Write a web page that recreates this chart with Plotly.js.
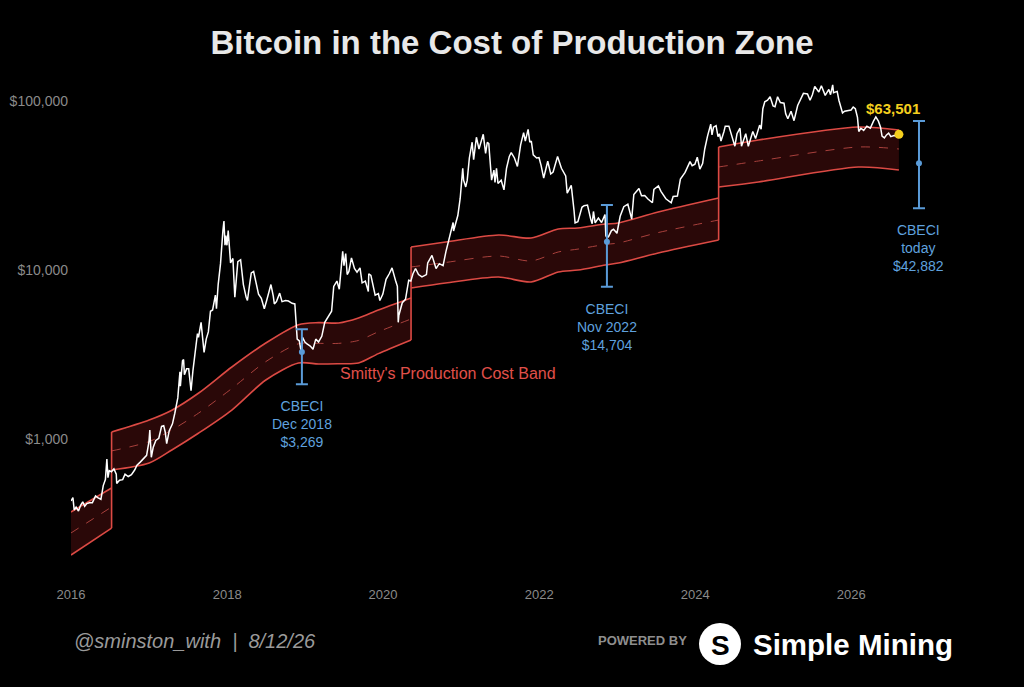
<!DOCTYPE html>
<html>
<head>
<meta charset="utf-8">
<script src="https://cdn.plot.ly/plotly-3.0.1.min.js"></script>
<style>
html,body{margin:0;padding:0;background:#000;}
#chart{width:1024px;height:687px;}
</style>
</head>
<body>
<div id="chart"></div>
<script>
// ---------- DATA ----------
const priceDates = [
'2016-01-01','2016-01-10','2016-01-16','2016-01-25','2016-02-05','2016-02-15','2016-02-25','2016-03-05','2016-03-15','2016-03-28',
'2016-04-10','2016-04-25','2016-05-05','2016-05-20','2016-05-31','2016-06-10','2016-06-17','2016-06-22','2016-06-28','2016-07-08',
'2016-07-20','2016-07-31','2016-08-02','2016-08-15','2016-08-30','2016-09-10','2016-09-25','2016-10-10','2016-10-25','2016-11-05',
'2016-11-20','2016-12-05','2016-12-20','2016-12-31',
'2017-01-04','2017-01-11','2017-01-20','2017-02-01','2017-02-15','2017-02-28','2017-03-10','2017-03-17','2017-03-24','2017-04-05',
'2017-04-20','2017-05-01','2017-05-15','2017-05-25','2017-05-27','2017-06-06','2017-06-11','2017-06-15','2017-06-25','2017-07-05',
'2017-07-16','2017-07-25','2017-08-05','2017-08-15','2017-08-20','2017-09-01','2017-09-15','2017-09-25','2017-10-05','2017-10-15',
'2017-10-25','2017-11-01','2017-11-07','2017-11-12','2017-11-20','2017-12-01','2017-12-08','2017-12-12','2017-12-17','2017-12-22',
'2017-12-26','2017-12-31',
'2018-01-06','2018-01-10','2018-01-17','2018-01-28','2018-02-06','2018-02-12','2018-02-20','2018-03-05','2018-03-12','2018-03-18',
'2018-03-31','2018-04-06','2018-04-15','2018-04-24','2018-05-05','2018-05-15','2018-05-28','2018-06-10','2018-06-24','2018-07-05',
'2018-07-25','2018-08-05','2018-08-10','2018-08-20','2018-09-04','2018-09-15','2018-10-01','2018-10-15','2018-11-01','2018-11-14',
'2018-11-20','2018-11-25','2018-12-05','2018-12-15','2018-12-20','2018-12-31',
'2019-01-10','2019-01-25','2019-02-07','2019-02-20','2019-03-05','2019-03-20','2019-04-03','2019-04-20','2019-05-05','2019-05-15',
'2019-05-30','2019-06-10','2019-06-26','2019-07-02','2019-07-10','2019-07-17','2019-07-25','2019-08-06','2019-08-20','2019-09-01',
'2019-09-15','2019-09-25','2019-10-10','2019-10-24','2019-10-26','2019-11-05','2019-11-25','2019-12-10','2019-12-17','2019-12-31',
'2020-01-15','2020-01-30','2020-02-12','2020-02-28','2020-03-08','2020-03-12','2020-03-15','2020-03-31','2020-04-15','2020-04-30',
'2020-05-10','2020-05-20','2020-06-01','2020-06-15','2020-07-01','2020-07-22','2020-07-28','2020-08-17','2020-09-05','2020-09-20',
'2020-10-08','2020-10-21','2020-11-05','2020-11-24','2020-11-26','2020-12-16','2020-12-27',
'2021-01-03','2021-01-08','2021-01-12','2021-01-22','2021-01-29','2021-02-08','2021-02-21','2021-02-28','2021-03-13','2021-03-25',
'2021-04-14','2021-04-25','2021-05-03','2021-05-10','2021-05-13','2021-05-19','2021-05-23','2021-06-03','2021-06-08','2021-06-15',
'2021-06-22','2021-07-07','2021-07-20','2021-08-01','2021-08-14','2021-08-23','2021-08-29','2021-09-07','2021-09-21','2021-10-06',
'2021-10-20','2021-10-28','2021-11-10','2021-11-18','2021-11-25','2021-12-04','2021-12-20','2021-12-31',
'2022-01-10','2022-01-22','2022-02-10','2022-02-24','2022-03-07','2022-03-28','2022-04-15','2022-04-26','2022-05-05','2022-05-12',
'2022-05-31','2022-06-13','2022-06-18','2022-07-01','2022-07-20','2022-07-30','2022-08-15','2022-08-30','2022-09-06','2022-09-12',
'2022-09-20','2022-10-05','2022-10-20','2022-11-05','2022-11-09','2022-11-21','2022-12-05','2022-12-15','2022-12-31',
'2023-01-15','2023-02-01','2023-02-20','2023-03-10','2023-03-20','2023-04-13','2023-04-25','2023-05-10','2023-05-25','2023-06-15',
'2023-06-22','2023-07-13','2023-07-25','2023-08-17','2023-09-11','2023-09-20','2023-10-10','2023-10-24','2023-11-15','2023-12-08',
'2023-12-18','2023-12-31',
'2024-01-11','2024-01-23','2024-02-05','2024-02-15','2024-02-28','2024-03-05','2024-03-14','2024-03-20','2024-03-27','2024-04-08',
'2024-04-17','2024-04-24','2024-05-01','2024-05-15','2024-05-21','2024-06-07','2024-06-24','2024-07-05','2024-07-15','2024-07-29',
'2024-08-05','2024-08-25','2024-09-06','2024-09-27','2024-10-10','2024-10-29','2024-11-05','2024-11-13','2024-11-22','2024-12-05',
'2024-12-17','2024-12-31',
'2025-01-09','2025-01-21','2025-02-03','2025-02-20','2025-02-28','2025-03-10','2025-03-25','2025-04-08','2025-04-25','2025-05-10',
'2025-05-22','2025-06-10','2025-06-22','2025-07-03','2025-07-14','2025-08-02','2025-08-14','2025-09-01','2025-09-18','2025-09-26',
'2025-10-06','2025-10-10','2025-10-27','2025-11-04','2025-11-21','2025-12-01','2025-12-15','2025-12-31',
'2026-01-10','2026-01-20','2026-01-30','2026-02-05','2026-02-15','2026-02-28','2026-03-15','2026-03-31','2026-04-15','2026-04-26',
'2026-05-08','2026-05-18','2026-05-25','2026-06-05','2026-06-15','2026-06-25','2026-07-05','2026-07-20','2026-08-01','2026-08-12'
];
const priceValues = [
430,450,380,395,375,405,425,400,415,420,
420,460,450,440,530,575,760,590,650,640,
665,620,545,570,575,620,600,615,655,700,
730,760,800,965,
1130,780,895,980,1010,1190,1200,1100,940,1120,
1230,1420,1750,2500,2050,2900,2950,2400,2600,2600,
1930,2550,3200,4200,4000,4900,3250,3900,4300,5700,
5800,6700,7100,5900,8200,10900,16000,17000,19500,14000,
16000,14000,
17100,14500,11000,11700,6900,8500,11200,11500,9200,8200,
6900,6600,8000,9600,9800,8500,7200,6800,5900,6600,
8200,7000,6300,6500,7300,6500,6600,6550,6350,6300,
4500,3900,3800,3200,4000,3750,
3650,3550,3400,3900,3750,4050,4900,5300,5700,8000,
8600,7700,12900,10600,12500,9400,9800,11800,10200,9700,
10300,8400,8600,7450,9500,9300,7100,7250,6600,7200,
8800,9500,10300,8700,8000,4900,5400,6400,6700,8700,
8600,9500,10200,9400,9100,9400,11000,12200,10200,10900,
10600,12800,15500,19100,17000,21000,26500,
33000,40000,34000,31000,34000,46000,57000,45000,61000,52000,
63500,49000,57000,56000,49500,37000,34000,39000,33000,40000,
32500,34000,29800,40000,47000,49500,48000,46000,41000,55000,
65000,58000,68000,57000,58000,48000,46000,46300,
41500,35000,44000,37000,38000,47000,40000,38000,36000,28500,
31700,22500,19000,19300,23500,24000,24200,20000,18800,22200,
19000,20300,19100,21300,15900,15700,17100,17400,16500,
20800,23700,24500,20000,28000,30400,27500,27600,26300,25000,
30000,31400,29200,26400,25000,27200,27400,34500,37800,43800,
41400,42300,
46500,39500,42600,52000,62000,66000,73000,63000,70000,71500,
61500,64000,58000,66000,71000,71000,60000,54000,64000,69000,
54000,64000,53900,66000,60000,72000,68000,90000,99000,101000,
106000,93500,
92500,106000,98000,97000,84000,78500,87000,76500,94000,104000,
111000,110000,101000,109000,122000,113000,123000,108000,117000,109000,
124500,112000,114000,101000,85000,87000,88000,88500,
92000,90000,80000,66000,69000,67000,71000,69000,76000,80500,
76000,70000,62000,60500,63000,64500,61500,62500,62000,63501
];

// Production cost band: one entry per point, segment index = halving epoch
const bandSegment = [
0,0,
1,1,1,1,1,1,1,1,1,1,1,1,
2,2,2,2,2,2,2,2,2,2,
3,3,3,3
];
const bandDates = [
'2016-01-01','2016-07-09',
'2016-07-09','2017-01-01','2017-04-17','2017-08-21','2018-01-23','2018-07-01','2018-12-01','2019-03-05','2019-06-07','2019-09-08','2019-12-10','2020-05-11',
'2020-05-11','2020-10-20','2021-06-25','2021-11-24','2022-03-31','2022-07-02','2022-11-06','2023-01-06','2023-07-12','2024-04-20',
'2024-04-20','2024-10-23','2026-02-03','2026-08-12'
];
const bandUpper = [
370,513,
1100,1295,1480,1871,2667,3698,4750,4880,4857,5200,5800,6830,
13680,14640,16110,15460,17480,17720,18710,18970,22040,26670,
53430,58780,70200,67360
];
const bandLower = [
206,297,
655,721,861,1085,1484,2235,2817,2779,2790,2817,3200,3853,
7830,8380,9090,8490,9730,10000,10710,11000,12610,15050,
30980,33170,40690,39060
];
const bandMid = [
278,396,
850,966,1130,1425,1990,2870,3660,3680,3680,3830,4310,5130,
10420,11080,12100,11310,12780,13300,14160,14440,16650,19760,
40690,44150,53430,52000
];

// CBECI estimates with ranges
const cbeciDates = ['2018-12-17','2022-11-14','2026-11-14'];
const cbeciValues = [3269, 14704, 42882];
const cbeciPlus = [1188, 9536, 33280];
const cbeciMinus = [1162, 6739, 19710];
const cbeciLabels = ['CBECI<br>Dec 2018<br>$3,269','CBECI<br>Nov 2022<br>$14,704','CBECI<br>today<br>$42,882'];

const yTickVals = [1000, 10000, 100000];
const yTickText = ['$1,000', '$10,000', '$100,000'];
const xTickVals = ['2016-01-01','2018-01-01','2020-01-01','2022-01-01','2024-01-01','2026-01-01'];
const xTickText = ['2016','2018','2020','2022','2024','2026'];

const lastPrice = priceValues[priceValues.length - 1];
const lastDate = priceDates[priceDates.length - 1];

// ---------- TRACES ----------
const RED = '#dc4a44';
const BLUE = '#5a9bd8';
const traces = [];
const nSeg = Math.max(...bandSegment) + 1;
const segIdx = s => bandSegment.map((g, i) => g === s ? i : -1).filter(i => i >= 0);
for (let s = 0; s < nSeg; s++) {
  const idx = segIdx(s);
  const xs = idx.map(i => bandDates[i]);
  traces.push({x: xs, y: idx.map(i => bandLower[i]), type: 'scatter', mode: 'lines',
    line: {color: RED, width: 1.6, shape: 'spline', smoothing: 0.8}, hoverinfo: 'skip'});
  traces.push({x: xs, y: idx.map(i => bandUpper[i]), type: 'scatter', mode: 'lines', fill: 'tonexty',
    fillcolor: 'rgba(120,24,24,0.35)',
    line: {color: RED, width: 1.6, shape: 'spline', smoothing: 0.8}, hoverinfo: 'skip'});
  traces.push({x: xs, y: idx.map(i => bandMid[i]), type: 'scatter', mode: 'lines',
    line: {color: '#a8403c', width: 1, dash: 'dash', shape: 'spline', smoothing: 0.8}, hoverinfo: 'skip'});
  if (s > 0) {
    const prevIdx = segIdx(s - 1);
    const a = prevIdx[prevIdx.length - 1], b = idx[0];
    traces.push({x: [bandDates[b], bandDates[b]], y: [bandLower[a], bandUpper[b]], type: 'scatter',
      mode: 'lines', line: {color: RED, width: 1.6}, hoverinfo: 'skip'});
  }
}
traces.push(
  {x: priceDates, y: priceValues, type: 'scatter', mode: 'lines',
   line: {color: '#ffffff', width: 1.5}},
  {x: cbeciDates, y: cbeciValues, type: 'scatter', mode: 'markers',
   marker: {color: BLUE, size: 6},
   error_y: {type: 'data', symmetric: false, array: cbeciPlus, arrayminus: cbeciMinus,
             color: BLUE, thickness: 2, width: 6}},
  {x: [lastDate], y: [lastPrice], type: 'scatter', mode: 'markers',
   marker: {color: '#f5cf1e', size: 9}}
);

// ---------- LAYOUT ----------
const L = 71, R = 64, T = 70, B = 102, W = 1024, H = 687;
const pw = W - L - R, ph = H - T - B;
const px = v => (v - L) / pw;          // pixel x -> paper
const py = v => (H - B - v) / ph;      // pixel y -> paper

const FONT = 'Liberation Sans, Arial, sans-serif';
const annotations = cbeciDates.map((d, i) => ({
  x: d, y: Math.log10(cbeciValues[i] - cbeciMinus[i]), xref: 'x', yref: 'y',
  yanchor: 'top', yshift: -12, showarrow: false, align: 'center',
  text: cbeciLabels[i], font: {family: FONT, size: 14, color: '#5fa1de'}
}));
annotations.push(
  {x: '2020-11-01', y: Math.log10(2455), xref: 'x', yref: 'y', showarrow: false,
   text: "Smitty's Production Cost Band", font: {family: FONT, size: 16, color: '#e0504a'}},
  {x: lastDate, y: Math.log10(lastPrice), xref: 'x', yref: 'y', showarrow: false,
   xshift: -6, yshift: 26, text: '<b>$63,501</b>',
   font: {family: FONT, size: 15, color: '#f5cf1e'}},
  {x: px(72), y: py(641), xref: 'paper', yref: 'paper', xanchor: 'left', yanchor: 'middle', showarrow: false,
   text: '<i>@sminston_with  |  8/12/26</i>', font: {family: FONT, size: 20, color: '#9a9a9a'}},
  {x: px(596), y: py(640), xref: 'paper', yref: 'paper', xanchor: 'left', yanchor: 'middle', showarrow: false,
   text: '<b>POWERED BY</b>', font: {family: FONT, size: 13, color: '#8e8e8e'}},
  {x: px(720), y: py(645), xref: 'paper', yref: 'paper', xanchor: 'center', yanchor: 'middle', showarrow: false,
   text: '<b>S</b>', font: {family: FONT, size: 28, color: '#000000'}},
  {x: px(751), y: py(644), xref: 'paper', yref: 'paper', xanchor: 'left', yanchor: 'middle', showarrow: false,
   text: '<b>Simple Mining</b>', font: {family: FONT, size: 29.5, color: '#ffffff'}}
);

const layout = {
  width: W, height: H,
  paper_bgcolor: '#000000', plot_bgcolor: '#000000',
  margin: {l: L, r: R, t: T, b: B},
  font: {family: FONT, color: '#8a8a8a'},
  title: {text: '<b>Bitcoin in the Cost of Production Zone</b>', x: 0.5, xanchor: 'center',
          y: 1 - 42 / H, yanchor: 'middle', yref: 'container',
          font: {family: FONT, size: 33, color: '#e8e8e8'}},
  xaxis: {type: 'date', range: ['2016-01-01', '2027-05-25'],
          tickvals: xTickVals, ticktext: xTickText, showgrid: false, zeroline: false, showline: false,
          ticks: '', tickfont: {size: 13, color: '#8a8a8a'}},
  yaxis: {type: 'log', range: [2.1361, 5.1834], tickvals: yTickVals, ticktext: yTickText,
          showgrid: false, zeroline: false, showline: false, ticks: '',
          ticklabelstandoff: 2, tickfont: {size: 14, color: '#8a8a8a'}},
  shapes: [
    {type: 'circle', xref: 'paper', yref: 'paper', x0: px(699), x1: px(741), y0: py(665), y1: py(623),
     fillcolor: '#ffffff', line: {width: 0}}
  ],
  annotations: annotations,
  showlegend: false
};

Plotly.newPlot('chart', traces, layout, {displayModeBar: false, staticPlot: true});
</script>
</body>
</html>
